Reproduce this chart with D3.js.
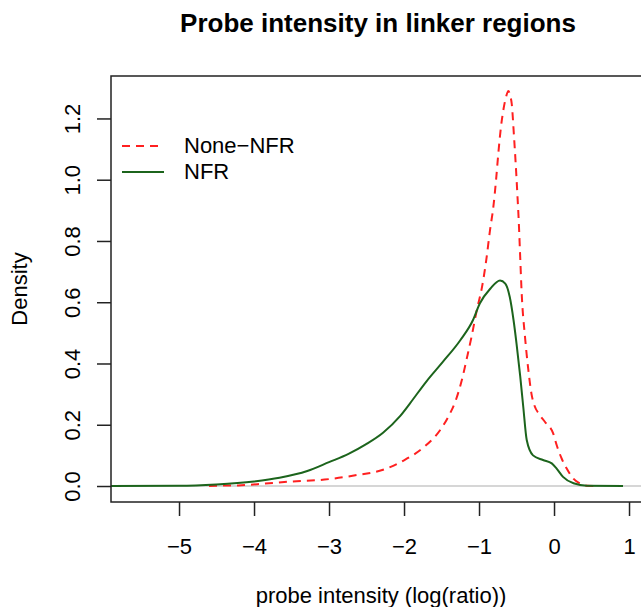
<!DOCTYPE html>
<html>
  <head>
    <meta charset="utf-8" />
    <title>Probe intensity in linker regions</title>
    <style>
      body { margin: 0; background: #fff; }
      svg text { font-family: "Liberation Sans", Arial, Helvetica, sans-serif; fill: #000; }
      .curve { fill: none; }
    </style>
  </head>
  <body>
    <svg width="641" height="607"></svg>

    <script type="text/javascript" src="https://d3js.org/d3.v7.min.js"></script>
    <script type="text/javascript">
      // density curve for None-NFR probes (red, dashed)
      const noneNfrX = [-4.6, -4.5, -4.21, -3.85, -3.48, -3.06, -2.65, -2.28, -2.0, -1.73, -1.52, -1.41, -1.31, -1.23, -1.16, -1.1, -1.03, -0.96, -0.905, -0.853, -0.809, -0.773, -0.743, -0.707, -0.676, -0.64, -0.609, -0.585, -0.564, -0.533, -0.511, -0.489, -0.471, -0.453, -0.431, -0.387, -0.342, -0.3, -0.26, -0.2, -0.12, -0.01, 0.036, 0.103, 0.169, 0.258, 0.347, 0.44, 0.6];
      const noneNfrY = [0, 0.001, 0.002, 0.008, 0.015, 0.021, 0.035, 0.053, 0.084, 0.128, 0.182, 0.226, 0.28, 0.345, 0.42, 0.487, 0.574, 0.65, 0.735, 0.836, 0.911, 0.999, 1.085, 1.173, 1.227, 1.27, 1.29, 1.275, 1.248, 1.139, 1.052, 0.954, 0.868, 0.76, 0.628, 0.487, 0.378, 0.3, 0.262, 0.235, 0.209, 0.171, 0.133, 0.089, 0.057, 0.024, 0.008, 0.001, 0];

      // density curve for NFR probes (green, solid)
      const nfrX = [-6.2, -5.0, -4.5, -4.0, -3.66, -3.29, -3.0, -2.74, -2.51, -2.28, -2.05, -1.92, -1.7, -1.48, -1.25, -1.08, -0.99, -0.85, -0.72, -0.65, -0.59, -0.54, -0.5, -0.45, -0.41, -0.364, -0.28, -0.147, -0.03, 0.035, 0.12, 0.26, 0.44, 0.92];
      const nfrY = [0, 0.0005, 0.005, 0.015, 0.027, 0.049, 0.078, 0.105, 0.136, 0.174, 0.229, 0.27, 0.342, 0.406, 0.476, 0.542, 0.596, 0.644, 0.671, 0.661, 0.617, 0.542, 0.465, 0.356, 0.258, 0.15, 0.1, 0.085, 0.074, 0.057, 0.03, 0.009, 0.001, 0];

      const xTicks = [-5, -4, -3, -2, -1, 0, 1];
      const yTicks = [0, 0.2, 0.4, 0.6, 0.8, 1.0, 1.2];
      const seriesNames = ["None\u2212NFR", "NFR"];
      const seriesColors = ["#ff2020", "#1c641c"];

      const svg = d3.select("svg");
      const box = { left: 111, right: 648, top: 76, bottom: 502 };

      const x = d3.scaleLinear().domain([-5.907, 1.253]).range([box.left, box.right]);
      const y = d3.scaleLinear().domain([-0.0522, 1.3386]).range([box.bottom, box.top]);

      svg.append("clipPath").attr("id", "plotclip")
        .append("rect")
        .attr("x", box.left).attr("y", box.top)
        .attr("width", box.right - box.left).attr("height", box.bottom - box.top);

      const plot = svg.append("g").attr("clip-path", "url(#plotclip)");

      // zero line
      plot.append("line")
        .attr("x1", box.left).attr("x2", box.right)
        .attr("y1", y(0)).attr("y2", y(0))
        .attr("stroke", "#c8c8c8").attr("stroke-width", 1.5);

      const line = d3.line()
        .x(d => x(d[0]))
        .y(d => y(d[1]))
        .curve(d3.curveMonotoneX);

      plot.append("path")
        .attr("class", "curve")
        .attr("d", line(d3.zip(noneNfrX, noneNfrY)))
        .attr("stroke", seriesColors[0])
        .attr("stroke-width", 2)
        .attr("stroke-dasharray", "8,6");

      plot.append("path")
        .attr("class", "curve")
        .attr("d", line(d3.zip(nfrX, nfrY)))
        .attr("stroke", seriesColors[1])
        .attr("stroke-width", 2);

      // frame
      svg.append("rect")
        .attr("x", box.left).attr("y", box.top)
        .attr("width", box.right - box.left).attr("height", box.bottom - box.top)
        .attr("fill", "none").attr("stroke", "#222").attr("stroke-width", 1.5);

      // axes (R style: ticks outside, labels below / rotated on the left)
      const xAxis = d3.axisBottom(x).tickValues(xTicks).tickSize(14).tickPadding(22)
        .tickFormat(d => d < 0 ? "\u2212" + Math.abs(d) : d);
      const gx = svg.append("g").attr("transform", `translate(0,${box.bottom})`).call(xAxis);
      gx.select(".domain").remove();
      gx.selectAll(".tick line").attr("stroke", "#222").attr("stroke-width", 1.5);
      gx.selectAll(".tick text").attr("font-size", 22).attr("font-family", null);

      const yAxis = d3.axisLeft(y).tickValues(yTicks).tickSize(14).tickFormat(d3.format(".1f"));
      const gy = svg.append("g").attr("transform", `translate(${box.left},0)`).call(yAxis);
      gy.select(".domain").remove();
      gy.selectAll(".tick line").attr("stroke", "#222").attr("stroke-width", 1.5);
      gy.selectAll(".tick text")
        .attr("font-size", 22).attr("font-family", null)
        .attr("x", null).attr("dy", null)
        .attr("text-anchor", "middle")
        .attr("transform", "translate(-31,0) rotate(-90)");

      svg.append("text")
        .attr("x", 378).attr("y", 32)
        .attr("text-anchor", "middle")
        .attr("font-size", 26).attr("font-weight", "bold")
        .text("Probe intensity in linker regions");

      svg.append("text")
        .attr("x", 381).attr("y", 603)
        .attr("text-anchor", "middle")
        .attr("font-size", 22)
        .text("probe intensity (log(ratio))");

      svg.append("text")
        .attr("transform", `translate(27,${(box.top + box.bottom) / 2}) rotate(-90)`)
        .attr("text-anchor", "middle")
        .attr("font-size", 22)
        .text("Density");

      // legend
      const legend = svg.append("g").attr("transform", "translate(122,146)");
      seriesNames.forEach((name, i) => {
        const row = legend.append("g").attr("transform", `translate(0,${i * 26})`);
        row.append("line")
          .attr("x1", 0).attr("x2", i === 0 ? 38 : 42)
          .attr("stroke", seriesColors[i]).attr("stroke-width", 2)
          .attr("stroke-dasharray", i === 0 ? "8,6" : null);
        row.append("text")
          .attr("x", 62).attr("y", 7)
          .attr("font-size", 22)
          .text(name);
      });
    </script>
  </body>
</html>
